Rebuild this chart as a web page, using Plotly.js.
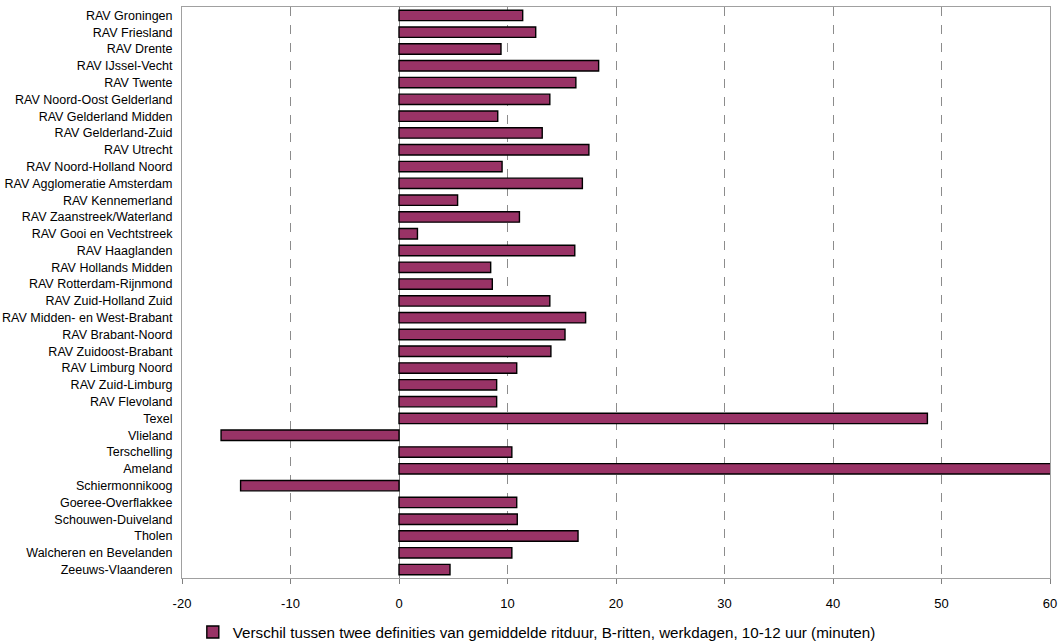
<!DOCTYPE html>
<html>
<head>
<meta charset="utf-8">
<script src="https://cdn.plot.ly/plotly-3.0.1.min.js"></script>
<style>html,body{margin:0;padding:0;background:#fff;}#chart{width:1063px;height:643px;}</style>
</head>
<body>
<div id="chart"></div>
<script>
const categories = [
  "RAV Groningen", "RAV Friesland", "RAV Drente", "RAV IJssel-Vecht", "RAV Twente",
  "RAV Noord-Oost Gelderland", "RAV Gelderland Midden", "RAV Gelderland-Zuid", "RAV Utrecht",
  "RAV Noord-Holland Noord", "RAV Agglomeratie Amsterdam", "RAV Kennemerland",
  "RAV Zaanstreek/Waterland", "RAV Gooi en Vechtstreek", "RAV Haaglanden",
  "RAV Hollands Midden", "RAV Rotterdam-Rijnmond", "RAV Zuid-Holland Zuid",
  "RAV Midden- en West-Brabant", "RAV Brabant-Noord", "RAV Zuidoost-Brabant",
  "RAV Limburg Noord", "RAV Zuid-Limburg", "RAV Flevoland", "Texel", "Vlieland",
  "Terschelling", "Ameland", "Schiermonnikoog", "Goeree-Overflakkee",
  "Schouwen-Duiveland", "Tholen", "Walcheren en Bevelanden", "Zeeuws-Vlaanderen"
];
const values = [
  11.4, 12.6, 9.4, 18.4, 16.3,
  13.9, 9.1, 13.2, 17.5,
  9.5, 16.9, 5.4,
  11.1, 1.7, 16.2,
  8.45, 8.6, 13.9,
  17.2, 15.3, 14.0,
  10.85, 9.0, 9.0, 48.7, -16.4,
  10.4, 60.4, -14.6, 10.85,
  10.9, 16.5, 10.4, 4.7
];
const seriesName = "Verschil tussen twee definities van gemiddelde ritduur, B-ritten, werkdagen, 10-12 uur (minuten)";
const xTicks = [-20, -10, 0, 10, 20, 30, 40, 50, 60];

const trace = {
  type: "bar",
  orientation: "h",
  y: categories,
  x: values,
  name: seriesName,
  width: 0.62,
  marker: { color: "#993366", line: { color: "#000000", width: 1.4 } },
  showlegend: true,
  cliponaxis: true
};

const layout = {
  width: 1063,
  height: 643,
  margin: { l: 182, r: 13, t: 7, b: 65 },
  paper_bgcolor: "#ffffff",
  plot_bgcolor: "#ffffff",
  font: { family: "Liberation Sans, Arial, sans-serif", size: 12, color: "#000" },
  xaxis: {
    range: [-20, 60],
    tickvals: xTicks,
    ticktext: xTicks.map(String),
    showgrid: true,
    gridcolor: "#8c8c8c",
    griddash: "dash",
    gridwidth: 1,
    zeroline: true,
    zerolinecolor: "#808080",
    zerolinewidth: 1,
    showline: true,
    linecolor: "#a0a0a0",
    linewidth: 1,
    mirror: true,
    ticks: "outside",
    ticklen: 5,
    tickcolor: "#808080",
    ticklabelstandoff: 8,
    tickfont: { size: 13, color: "#000" },
    fixedrange: true
  },
  yaxis: {
    type: "category",
    autorange: "reversed",
    showgrid: false,
    showline: true,
    linecolor: "#a0a0a0",
    linewidth: 1,
    mirror: true,
    ticks: "",
    ticklabelstandoff: 6,
    tickfont: { size: 12.5, color: "#000" },
    fixedrange: true
  },
  legend: {
    orientation: "h",
    xref: "container",
    yref: "container",
    x: 0.505,
    xanchor: "center",
    y: 0.017,
    yanchor: "middle",
    font: { size: 15.2, color: "#000" },
    itemwidth: 30
  }
};

Plotly.newPlot("chart", [trace], layout, { displayModeBar: false, staticPlot: true });
</script>
</body>
</html>
